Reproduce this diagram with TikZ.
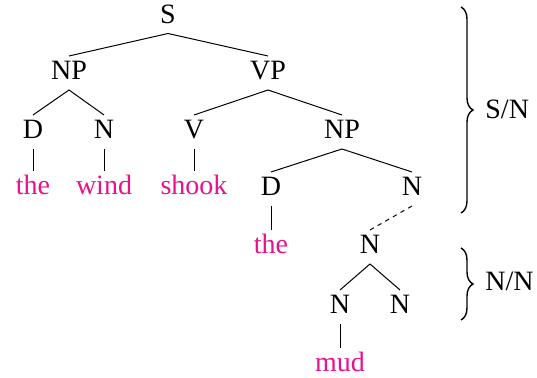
\documentclass[tikz,border=0pt]{standalone}
\usepackage{fontspec}
\setmainfont{Liberation Serif}
\newfontfamily\baumfont{Liberation Serif}
\usetikzlibrary{decorations.pathreplacing}
\definecolor{wortfarbe}{RGB}{232,18,140}

\begin{document}
\begin{tikzpicture}[x=0.5pt, y=-0.5pt,
    kat/.style={font=\baumfont\fontsize{14}{16}\selectfont, text height=0.66em, text depth=0pt, inner xsep=1pt, inner ysep=5pt},
    wort/.style={kat, text=wortfarbe},
    kante/.style={line width=0.5pt}]
  \useasboundingbox (0,0) rectangle (537,378);

  % Kategorien
  \node [kat] (s) at (168,16.5) {S};
  \node [kat] (np1) at (69,73) {NP};
  \node [kat] (vp) at (268,73) {VP};
  \node [kat] (d1) at (33,132) {D};
  \node [kat] (n1) at (104,132) {N};
  \node [kat] (v) at (194,132) {V};
  \node [kat] (np2) at (342,132) {NP};
  \node [kat] (d2) at (271,189) {D};
  \node [kat] (n2) at (412,189) {N};
  \node [kat] (nm) at (370,247) {N};
  \node [kat] (nl) at (340,307) {N};
  \node [kat] (nr) at (400,307) {N};

  % Woerter
  \node [wort] (the1) at (33,188) {the};
  \node [wort] (wind) at (104,188) {wind};
  \node [wort] (shook) at (194,188) {shook};
  \node [wort] (the2) at (271,247) {the};
  \node [wort] (mud) at (340,365) {mud};

  % Kanten
  \draw [kante] (s.south) -- (np1.north);
  \draw [kante] (s.south) -- (vp.north);
  \draw [kante] (np1.south) -- (d1.north);
  \draw [kante] (np1.south) -- (n1.north);
  \draw [kante] (vp.south) -- (v.north);
  \draw [kante] (vp.south) -- (np2.north);
  \draw [kante] (np2.south) -- (d2.north);
  \draw [kante] (np2.south) -- (n2.north);
  \draw [kante, dash pattern=on 2.2pt off 2.2pt] (n2.south) -- (nm.north);
  \draw [kante] (nm.south) -- (nl.north);
  \draw [kante] (nm.south) -- (nr.north);
  \draw [kante] (d1.south) -- (the1.north);
  \draw [kante] (n1.south) -- (wind.north);
  \draw [kante] (v.south) -- (shook.north);
  \draw [kante] (d2.south) -- (the2.north);
  \draw [kante] (nl.south) -- (mud.north);

  % Klammern
  \coordinate (k1o) at (461,7);
  \coordinate (k1u) at (461,213);
  \coordinate (k2o) at (461,248);
  \coordinate (k2u) at (461,320);
  \draw [line width=0.7pt, decorate, decoration={brace, amplitude=6pt}] (k1o) -- (k1u);
  \draw [line width=0.7pt, decorate, decoration={brace, amplitude=6pt}] (k2o) -- (k2u);
  \node [kat, anchor=west] (sn) at (483,112) {S/N};
  \node [kat, anchor=west] (nn) at (483,284) {N/N};
\end{tikzpicture}
\end{document}
